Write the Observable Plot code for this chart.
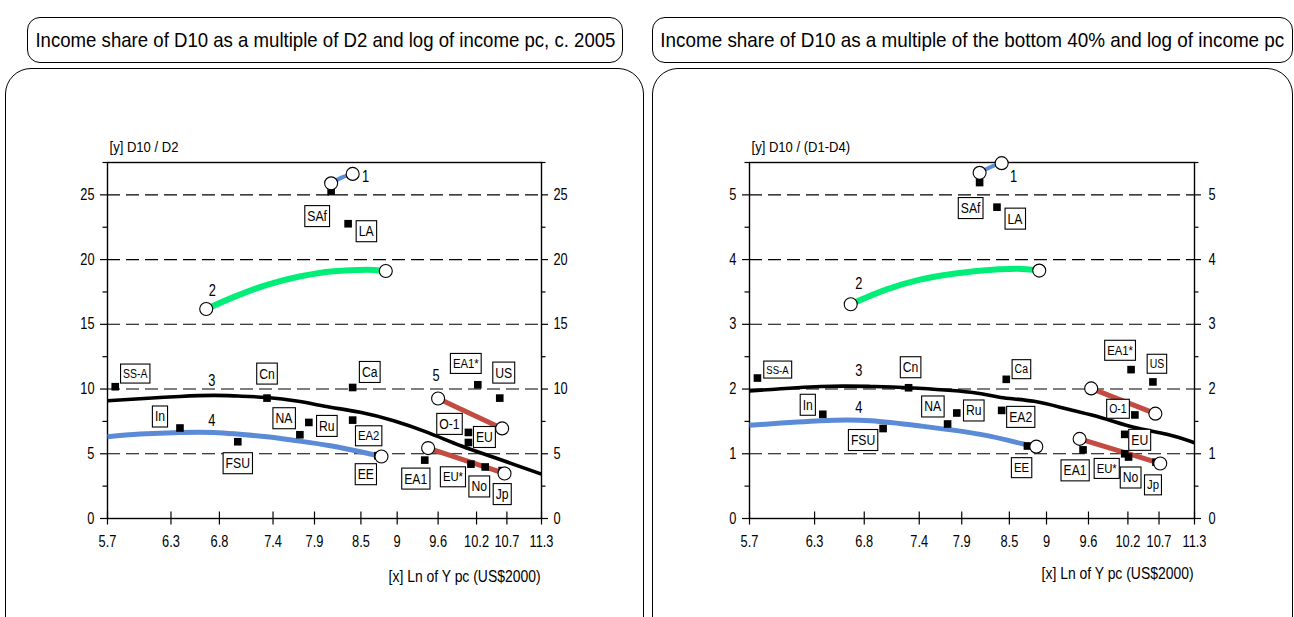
<!DOCTYPE html>
<html><head><meta charset="utf-8">
<script src="https://cdn.jsdelivr.net/npm/d3@7"></script>
<script src="https://cdn.jsdelivr.net/npm/@observablehq/plot@0.6"></script>
<style>
body{margin:0;background:#fff;}
#wrap{position:relative;width:1294px;height:617px;overflow:hidden;font-family:"Liberation Sans",Arial,sans-serif;color:#000;}
.panel{position:absolute;top:0;width:647px;height:617px;}
.tbox{position:absolute;border:1px solid #000;border-radius:13px;display:flex;align-items:center;justify-content:center;font-size:21px;box-sizing:border-box;white-space:nowrap;background:transparent;overflow:visible;}
.tbox span{display:inline-block;transform-origin:50% 50%;}
.pbox{position:absolute;border:1px solid #000;border-radius:26px;box-sizing:border-box;pointer-events:none;}
</style></head>
<body><div id="wrap">
<div class="pbox" style="left:5px;top:68px;width:639px;height:620px"></div>
<div class="pbox" style="left:652px;top:68px;width:641px;height:620px"></div>
<div id="left" class="panel" style="left:0"></div>
<div id="right" class="panel" style="left:647px"></div>
<div class="tbox" style="left:27px;top:17px;width:596px;height:46px"><span id="t1"></span></div>
<div class="tbox" style="left:652px;top:17px;width:641px;height:46px"><span id="t2"></span></div>
</div>
<script>
// ---------- DATA ----------
const titleD2 = "Income share of D10 as a multiple of D2 and log of income pc, c. 2005";
const titleB40 = "Income share of D10 as a multiple of the bottom 40% and log of income pc";
const yLabelD2 = "[y] D10 / D2";
const yLabelB40 = "[y] D10 / (D1-D4)";
const xLabel = "[x] Ln of Y pc (US$2000)";

const codes = ["SS-A","In","FSU","Cn","NA","Ru","SAf","LA","Ca","EA2","EE","EA1","EA1*","EU*","O-1","EU","No","US","Jp"];
// left panel: D10/D2
const lnY_D2  = [5.77, 6.39, 7.00, 7.33, 7.72, 7.83, 8.11, 8.33, 8.39, 8.39, 8.73, 9.40, 10.22, 10.11, 10.07, 10.07, 10.34, 10.58, 10.62];
const ratioD2 = [10.18, 6.99, 5.93, 9.30, 6.47, 7.42, 25.25, 22.77, 10.12, 7.60, 4.85, 4.51, 10.33, 4.20, 6.65, 5.87, 3.98, 9.30, 3.70];
// right panel: D10/(D1-D4)
const lnY_B40  = [5.77, 6.38, 7.00, 7.28, 7.73, 7.84, 8.12, 8.34, 8.46, 8.40, 8.74, 9.52, 10.25, 10.15, 10.31, 10.15, 10.21, 10.60, 10.65];
const ratioB40 = [2.17, 1.61, 1.39, 2.02, 1.46, 1.63, 5.19, 4.81, 2.15, 1.67, 1.12, 1.06, 2.30, 1.00, 1.60, 1.30, 0.95, 2.11, 0.87];

const xDomain = [5.7, 11.3];
const xTicks = [5.7, 6.3, 6.8, 7.4, 7.9, 8.5, 9, 9.6, 10.2, 10.7, 11.3];
const yMajorD2 = [0, 5, 10, 15, 20, 25];
const yMinorD2 = [2.5, 7.5, 12.5, 17.5, 22.5, 27.5];
const yMajorB40 = [0, 1, 2, 3, 4, 5];
const yMinorB40 = [0.5, 1.5, 2.5, 3.5, 4.5, 5.5];

// fitted curves, left panel
const c1D2x = [8.11, 8.25, 8.39],  c1D2y = [25.89, 26.35, 26.62];
const c2D2x = [6.66, 6.96, 7.33, 7.73, 8.14, 8.58, 8.84], c2D2y = [16.18, 17.12, 18.05, 18.71, 19.10, 19.22, 19.12];
const c3D2x = [5.7, 6.0, 6.39, 6.74, 7.0, 7.33, 7.7, 8.10, 8.49, 8.95, 9.44, 9.95, 10.49, 11.3];
const c3D2y = [9.10, 9.25, 9.43, 9.51, 9.46, 9.35, 9.05, 8.60, 8.20, 7.55, 6.65, 5.62, 4.71, 3.43];
const c4D2x = [5.7, 6.0, 6.39, 6.74, 7.0, 7.33, 7.69, 8.10, 8.54, 8.78];
const c4D2y = [6.31, 6.52, 6.65, 6.65, 6.52, 6.31, 6.00, 5.62, 5.10, 4.79];
const c5aD2x = [9.60, 10.62], c5aD2y = [9.27, 6.96];
const c5bD2x = [9.45, 10.66], c5bD2y = [5.44, 3.48];

// fitted curves, right panel
const c1B40x = [8.12, 8.26, 8.40], c1B40y = [5.34, 5.43, 5.49];
const c2B40x = [6.66, 7.04, 7.41, 7.80, 8.37, 8.60, 8.90], c2B40y = [3.31, 3.54, 3.69, 3.78, 3.85, 3.86, 3.83];
const c3B40x = [5.7, 6.36, 6.87, 7.28, 8.01, 8.39, 8.83, 9.29, 9.78, 10.29, 10.83, 11.3];
const c3B40y = [1.97, 2.04, 2.04, 2.02, 1.95, 1.87, 1.81, 1.69, 1.56, 1.41, 1.30, 1.17];
const c4B40x = [5.7, 6.36, 6.87, 7.41, 8.13, 8.65, 8.86], c4B40y = [1.44, 1.51, 1.51, 1.43, 1.30, 1.16, 1.11];
const c5aB40x = [9.64, 10.64], c5aB40y = [2.01, 1.62];
const c5bB40x = [9.47, 10.72], c5bB40y = [1.23, 0.85];

// ---------- LAYOUT / STYLE ----------
const FONT = '"Liberation Sans",Arial,sans-serif';
const BLUE = "#5b8bd6", GREEN = "#00ee78", RED = "#c44b42";
const SX_DIGITS = 0.8, SX_TEXT = 0.87;   // horizontal condensing of the narrow face
// label offsets in pixels [dx, dy, fontSize]
const offD2 = {"SS-A":[20,-13,12],"In":[-20,-11,14],"FSU":[0,22,14],"Cn":[0,-24,14],"NA":[-16,-16,14],"Ru":[18,4,14],
  "SAf":[-14,25,14],"LA":[18,8,14],"Ca":[17,-15,14],"EA2":[16,16,13],"EE":[-12,19,14],"EA1":[-9,19,14],"EA1*":[-12,-21,13],
  "EU*":[-18,13,13],"O-1":[-19,-8,14],"EU":[16,-5,14],"No":[-6,20,14],"US":[4,-25,14],"Jp":[0,24,14]};
const offB40 = {"SS-A":[20,-8,11],"In":[-15,-9,14],"FSU":[-20,12,14],"Cn":[2,-20,14],"NA":[-15,-17,14],"Ru":[17,-2,14],
  "SAf":[-9,26,14],"LA":[18,12,14],"Ca":[15,-10,12],"EA2":[19,7,14],"EE":[-6,22,13],"EA1":[-8,21,14],"EA1*":[-11,-19,13],
  "EU*":[-18,15,13],"O-1":[-17,-6,12],"EU":[15,6,14],"No":[2,21,14],"US":[4,-18,12],"Jp":[-3,23,13]};

function series(xs, ys) { return xs.map((x, i) => ({x, y: ys[i]})); }
const codeSet = new Set(codes);

function panel(o) {
  const pts = codes.map((c, i) => ({code: c, x: o.xs[i], y: o.ys[i]}));
  const x0 = xDomain[0], x1 = xDomain[1];
  const marks = [
    Plot.ruleY(o.yMajor.filter(d => d > 0), {y: d => d, stroke: "#000", strokeWidth: 1.1, strokeDasharray: "13,6"}),
    Plot.frame({stroke: "#000", strokeWidth: 1.4}),
    Plot.ruleY(o.yMajor, {y: d => d, x1: x0, x2: x0, insetLeft: -7, stroke: "#000", strokeWidth: 1.2}),
    Plot.ruleY(o.yMinor, {y: d => d, x1: x0, x2: x0, insetLeft: -4.5, stroke: "#000", strokeWidth: 1.2}),
    Plot.ruleY(o.yMajor, {y: d => d, x1: x1, x2: x1, insetRight: -7, stroke: "#000", strokeWidth: 1.2}),
    Plot.ruleY(o.yMinor, {y: d => d, x1: x1, x2: x1, insetRight: -4.5, stroke: "#000", strokeWidth: 1.2}),
    Plot.axisY({anchor: "left", ticks: o.yMajor, tickSize: 0, tickPadding: 13, tickFormat: d => String(d), label: null, fontSize: 16}),
    Plot.axisY({anchor: "right", ticks: o.yMajor, tickSize: 0, tickPadding: o.rightPad, tickFormat: d => String(d), label: null, fontSize: 16}),
    Plot.ruleX(xTicks, {x: d => d, y1: 0, y2: 0, insetTop: -6.5, insetBottom: -6.5, stroke: "#000", strokeWidth: 1.2}),
    Plot.axisX({ticks: xTicks, tickSize: 0, tickPadding: 17, tickFormat: d => String(d), label: null, fontSize: 16}),
    Plot.text([o.yLabel], {text: d => d, frameAnchor: "top-left", dx: 2, dy: -21, textAnchor: "start", fontSize: 15}),
    Plot.text([xLabel], {text: d => d, frameAnchor: "bottom-right", dx: -1, dy: o.xLabDy, textAnchor: "end", fontSize: 16}),
    Plot.line(o.c3, {x: "x", y: "y", stroke: "#000", strokeWidth: 3.6, curve: "natural", strokeLinecap: "butt"}),
    Plot.line(o.c4, {x: "x", y: "y", stroke: BLUE, strokeWidth: 5, curve: "natural", strokeLinecap: "butt"}),
    Plot.line(o.c2, {x: "x", y: "y", stroke: GREEN, strokeWidth: 6, curve: "monotone-x", strokeLinecap: "butt"}),
    Plot.line(o.c1, {x: "x", y: "y", stroke: BLUE, strokeWidth: 4, curve: "natural", strokeLinecap: "butt"}),
    Plot.line(o.c5a, {x: "x", y: "y", stroke: RED, strokeWidth: 5, strokeLinecap: "butt"}),
    Plot.line(o.c5b, {x: "x", y: "y", stroke: RED, strokeWidth: 5, strokeLinecap: "butt"}),
    Plot.dot(pts, {x: "x", y: "y", symbol: "square", r: 4.3, fill: "#000", stroke: "none"}),
    Plot.dot([o.c1[0], o.c1[o.c1.length-1], o.c2[0], o.c2[o.c2.length-1], o.c4[o.c4.length-1],
              o.c5a[0], o.c5a[1], o.c5b[0], o.c5b[1]],
             {x: "x", y: "y", r: 6.5, fill: "#fff", stroke: "#000", strokeWidth: 1.1}),
  ];
  for (const p of pts) {
    const [dx, dy, fs] = o.offs[p.code];
    marks.push(Plot.text([p], {x: "x", y: "y", text: "code", dx, dy, fontSize: fs}));
  }
  for (const n of o.nums) {
    marks.push(Plot.text([n.p], {x: "x", y: "y", text: () => n.t, dx: n.dx, dy: n.dy, fontSize: 16}));
  }
  const svg = Plot.plot({
    width: 647, height: 617,
    marginLeft: o.ml, marginRight: o.mr, marginTop: 162, marginBottom: 99,
    x: {type: "log", domain: xDomain, axis: null},
    y: {domain: [0, o.yMax], axis: null},
    style: {fontFamily: FONT, background: "transparent", overflow: "visible", color: "#000"},
    marks
  });
  o.el.appendChild(svg);
  // condense every text horizontally (narrow face), keeping its anchor
  svg.querySelectorAll("text").forEach(t => {
    const sx = /^[0-9.]+$/.test(t.textContent) ? SX_DIGITS : SX_TEXT;
    const w = t.getComputedTextLength();
    t.setAttribute("textLength", (w * sx).toFixed(2));
    t.setAttribute("lengthAdjust", "spacingAndGlyphs");
  });
  // boxes around the region codes
  svg.querySelectorAll("text").forEach(t => {
    if (!codeSet.has(t.textContent)) return;
    const bb = t.getBBox();
    const r = document.createElementNS("http://www.w3.org/2000/svg", "rect");
    r.setAttribute("x", bb.x - 2.5); r.setAttribute("y", bb.y - 2.5);
    r.setAttribute("width", bb.width + 5); r.setAttribute("height", bb.height + 5);
    r.setAttribute("fill", "#fff"); r.setAttribute("stroke", "#000"); r.setAttribute("stroke-width", 1.1);
    const tr = t.getAttribute("transform");
    if (tr) r.setAttribute("transform", tr);
    t.parentNode.insertBefore(r, t);
  });
}

function setTitle(id, text, target) {
  const s = document.getElementById(id);
  s.textContent = text;
  const w = s.getBoundingClientRect().width;
  s.style.transform = `scaleX(${target / w})`;
}
setTitle("t1", titleD2, 580);
setTitle("t2", titleB40, 624);

const L = {c1: series(c1D2x, c1D2y), c2: series(c2D2x, c2D2y), c3: series(c3D2x, c3D2y), c4: series(c4D2x, c4D2y),
  c5a: series(c5aD2x, c5aD2y), c5b: series(c5bD2x, c5bD2y)};
panel({el: document.getElementById("left"), xs: lnY_D2, ys: ratioD2, yMajor: yMajorD2, yMinor: yMinorD2, yMax: 27.5,
  ml: 107, mr: 106, rightPad: 12, xLabDy: 63, yLabel: yLabelD2, offs: offD2, ...L,
  nums: [{t: "1", p: L.c1[2], dx: 13, dy: 3}, {t: "2", p: L.c2[0], dx: 6, dy: -18}, {t: "3", p: L.c3[3], dx: -2, dy: -15},
         {t: "4", p: L.c4[3], dx: -2, dy: -12}, {t: "5", p: L.c5a[0], dx: -2, dy: -23}]});

const R = {c1: series(c1B40x, c1B40y), c2: series(c2B40x, c2B40y), c3: series(c3B40x, c3B40y), c4: series(c4B40x, c4B40y),
  c5a: series(c5aB40x, c5aB40y), c5b: series(c5bB40x, c5bB40y)};
panel({el: document.getElementById("right"), xs: lnY_B40, ys: ratioB40, yMajor: yMajorB40, yMinor: yMinorB40, yMax: 5.5,
  ml: 102, mr: 100, rightPad: 14, xLabDy: 60, yLabel: yLabelB40, offs: offB40, ...R,
  nums: [{t: "1", p: R.c1[2], dx: 12, dy: 14}, {t: "2", p: R.c2[0], dx: 8, dy: -20}, {t: "3", p: R.c3[2], dx: -12, dy: -16},
         {t: "4", p: R.c4[2], dx: -12, dy: -13}]});
</script>
</body></html>
